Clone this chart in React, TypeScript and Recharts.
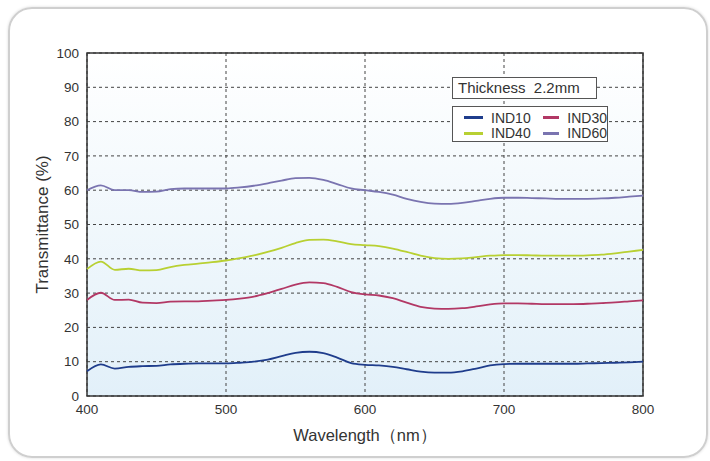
import React from "react";
import {
  LineChart,
  Line,
  XAxis,
  YAxis,
  CartesianGrid,
  Legend,
  ReferenceArea,
} from "recharts";

const wavelengths = [
  400, 410, 420, 430, 440, 450, 460, 470, 480, 490, 500, 510, 520, 530, 540, 550,
  560, 570, 580, 590, 600, 610, 620, 630, 640, 650, 660, 670, 680, 690, 700, 710,
  720, 730, 740, 750, 760, 770, 780, 790, 800,
];

const ind10 = [
  7.2, 9.2, 8, 8.5, 8.7, 8.8, 9.2, 9.4, 9.5, 9.5, 9.5, 9.7, 10, 10.6, 11.6, 12.6,
  12.9, 12.5, 11.2, 9.6, 9.1, 8.9, 8.5, 7.8, 7.1, 6.8, 6.8, 7.2, 8, 8.9, 9.3, 9.4,
  9.4, 9.4, 9.4, 9.4, 9.5, 9.6, 9.7, 9.8, 10,
];
const ind30 = [
  28, 30.1, 28, 28.1, 27.2, 27.1, 27.5, 27.6, 27.6, 27.8, 28, 28.4, 29, 30, 31.2,
  32.5, 33.1, 32.9, 31.8, 30.3, 29.6, 29.3, 28.5, 27.2, 26, 25.5, 25.4, 25.6, 26.1,
  26.7, 27, 27, 26.9, 26.8, 26.8, 26.8, 26.9, 27.1, 27.3, 27.6, 27.9,
];
const ind40 = [
  37, 39.2, 36.8, 37.1, 36.6, 36.7, 37.6, 38.2, 38.6, 39, 39.5, 40.2, 41, 42, 43.2,
  44.6, 45.5, 45.6, 45.1, 44.3, 44, 43.7, 43, 42, 40.9, 40.2, 40, 40.1, 40.5, 40.9,
  41.1, 41.1, 41, 40.9, 40.9, 40.9, 41, 41.2, 41.6, 42.1, 42.6,
];
const ind60 = [
  60, 61.4, 60, 60, 59.5, 59.6, 60.3, 60.5, 60.5, 60.5, 60.5, 60.8, 61.3, 62, 62.8,
  63.5, 63.6, 63, 61.8, 60.5, 60, 59.5, 58.7, 57.5, 56.6, 56.1, 56, 56.3, 56.9,
  57.5, 57.8, 57.8, 57.7, 57.6, 57.5, 57.5, 57.5, 57.6, 57.8, 58.1, 58.4,
];

const xTicks = [400, 500, 600, 700, 800];
const yTicks = [0, 10, 20, 30, 40, 50, 60, 70, 80, 90, 100];

const data = wavelengths.map((w, i) => ({
  w,
  ind10: ind10[i],
  ind30: ind30[i],
  ind40: ind40[i],
  ind60: ind60[i],
}));

const FONT = "Arial, 'Liberation Sans', Helvetica, sans-serif";

const LegendBox = ({ payload }: any) => {
  const items = payload || [];
  return (
    <div style={{ fontFamily: FONT, color: "#333" }}>
      <div
        style={{
          width: 138,
          height: 20,
          border: "1px solid #555",
          background: "#fff",
          fontSize: 15,
          lineHeight: "20px",
          paddingLeft: 5,
          boxSizing: "content-box",
          whiteSpace: "nowrap",
        }}
      >
        Thickness&nbsp;&nbsp;2.2mm
      </div>
      <div
        style={{
          marginTop: 7,
          width: 154,
          height: 31,
          border: "1px solid #555",
          background: "#fff",
          display: "grid",
          gridTemplateColumns: "79px 75px",
          fontSize: 14,
          lineHeight: "14px",
          paddingTop: 3,
          boxSizing: "content-box",
        }}
      >
        {items.map((p: any) => (
          <div key={p.value} style={{ display: "flex", alignItems: "center", paddingLeft: 11 }}>
            <span
              style={{
                display: "inline-block",
                width: 19,
                height: 3,
                background: p.color,
                marginRight: 8,
              }}
            />
            {p.value}
          </div>
        ))}
      </div>
    </div>
  );
};

export default function App() {
  return (
    <div
      style={{
        position: "absolute",
        left: 0,
        top: 0,
        width: 710,
        height: 461,
        background: "#fff",
        overflow: "hidden",
      }}
    >
      <div
        style={{
          position: "absolute",
          left: 8,
          top: 7,
          width: 696,
          height: 447,
          border: "2px solid #cfcfcf",
          borderRadius: 24,
          boxShadow: "0 0 3px rgba(0,0,0,0.15)",
        }}
      />
      <div style={{ position: "absolute", left: 0, top: 0 }}>
        <LineChart
          width={710}
          height={461}
          data={data}
          margin={{ top: 53, right: 67, bottom: 15, left: 30 }}
          style={{ fontFamily: FONT }}
        >
          <defs>
            <linearGradient id="plotBg" x1="0" y1="0" x2="0" y2="1">
              <stop offset="0%" stopColor="#ffffff" />
              <stop offset="100%" stopColor="#e2f0f9" />
            </linearGradient>
          </defs>
          <CartesianGrid
            stroke="#444"
            strokeDasharray="3 3"
            fill="url(#plotBg)"
            fillOpacity={1}
          />
          <XAxis
            dataKey="w"
            type="number"
            domain={[400, 800]}
            ticks={xTicks}
            tickLine={false}
            axisLine={false}
            height={50}
            tick={{ fill: "#333", fontSize: 13.5 }}
            label={{
              value: "Wavelength（nm）",
              position: "insideBottom",
              offset: 5,
              fill: "#333",
              fontSize: 16.5,
            }}
          />
          <YAxis
            type="number"
            domain={[0, 100]}
            ticks={yTicks}
            tickLine={false}
            axisLine={false}
            width={57}
            tick={{ fill: "#333", fontSize: 13.5 }}
            label={{
              value: "Transmittance (%)",
              angle: -90,
              position: "insideLeft",
              offset: 12,
              fill: "#333",
              fontSize: 17,
              style: { textAnchor: "middle" },
            }}
          />
          <ReferenceArea
            x1={400}
            x2={800}
            y1={0}
            y2={100}
            fill="none"
            stroke="#333"
            strokeWidth={1.5}
          />
          <Line type="monotone" dataKey="ind10" name="IND10" stroke="#1f3d8c" strokeWidth={1.8} dot={false} isAnimationActive={false} />
          <Line type="monotone" dataKey="ind30" name="IND30" stroke="#b23865" strokeWidth={1.8} dot={false} isAnimationActive={false} />
          <Line type="monotone" dataKey="ind40" name="IND40" stroke="#b8d032" strokeWidth={1.8} dot={false} isAnimationActive={false} />
          <Line type="monotone" dataKey="ind60" name="IND60" stroke="#7a74b0" strokeWidth={1.8} dot={false} isAnimationActive={false} />
          <Legend
            layout="vertical"
            align="center"
            verticalAlign="middle"
            content={<LegendBox />}
            wrapperStyle={{ position: "absolute", left: 452, top: 77, width: 160, bottom: "auto", right: "auto" }}
          />
        </LineChart>
      </div>
    </div>
  );
}
